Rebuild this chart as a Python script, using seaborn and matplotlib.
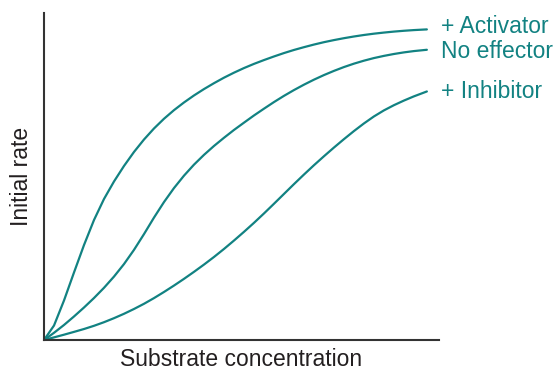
import pandas as pd
import matplotlib
matplotlib.use("Agg")
import matplotlib.pyplot as plt
import seaborn as sns

# substrate concentration (arbitrary units) where the curves were read
conc = [0, 0.253, 0.506, 0.759, 1.013, 1.266, 1.519, 1.772, 2.025, 2.278,
        2.532, 2.785, 3.038, 3.291, 3.544, 3.797, 4.051, 4.304, 4.557, 4.810,
        5.063, 5.316, 5.570, 5.823, 6.076, 6.329, 6.582, 6.835, 7.089, 7.342,
        7.595, 7.848, 8.101, 8.354, 8.608, 8.861, 9.114, 9.367, 9.696]

# initial rate (arbitrary units, 0-100)
activator = [0, 4.43, 12.08, 20.64, 29.05, 36.70, 43.12, 48.47, 53.21, 57.49,
             61.31, 64.68, 67.65, 70.28, 72.63, 74.77, 76.73, 78.53, 80.21, 81.74,
             83.15, 84.43, 85.60, 86.70, 87.74, 88.69, 89.54, 90.34, 91.07, 91.71,
             92.29, 92.81, 93.27, 93.67, 94.01, 94.31, 94.56, 94.77, 94.98]
no_effector = [0, 2.20, 4.59, 7.19, 9.94, 12.84, 15.96, 19.39, 23.21, 27.55,
               32.38, 37.43, 42.17, 46.45, 50.24, 53.61, 56.61, 59.33, 61.83, 64.22,
               66.45, 68.65, 70.73, 72.75, 74.65, 76.42, 78.07, 79.60, 81.01, 82.29,
               83.46, 84.50, 85.41, 86.21, 86.88, 87.46, 87.95, 88.35, 88.75]
inhibitor = [0, 0.80, 1.62, 2.48, 3.36, 4.34, 5.44, 6.67, 8.01, 9.48,
             11.07, 12.81, 14.68, 16.64, 18.69, 20.83, 23.06, 25.38, 27.83, 30.40,
             33.06, 35.81, 38.69, 41.65, 44.65, 47.65, 50.58, 53.43, 56.18, 58.84,
             61.41, 63.88, 66.21, 68.35, 70.21, 71.80, 73.21, 74.50, 76.00]

labels = ["+ Activator", "No effector", "+ Inhibitor"]
label_y = [95.8, 88.2, 75.9]

teal = "#128282"

sns.set_style("white")
plt.rcParams["font.family"] = ["Liberation Sans", "DejaVu Sans"]

df = pd.concat([
    pd.DataFrame({"x": conc, "y": activator, "curve": labels[0]}),
    pd.DataFrame({"x": conc, "y": no_effector, "curve": labels[1]}),
    pd.DataFrame({"x": conc, "y": inhibitor, "curve": labels[2]}),
])

fig = plt.figure(figsize=(5.53, 3.70), dpi=100)
ax = fig.add_axes([0.0796, 0.0811, 0.714, 0.8838])

sns.lineplot(data=df, x="x", y="y", hue="curve", palette=[teal] * 3,
             sort=False, estimator=None, legend=False, linewidth=1.6, ax=ax)

for lab, ly in zip(labels, label_y):
    ax.text(10.05, ly, lab, color=teal, fontsize=16.5, va="center", ha="left", clip_on=False)

ax.set_xlim(0, 10)
ax.set_ylim(0, 100)
ax.set_xticks([])
ax.set_yticks([])
sns.despine(ax=ax)
for s in ["left", "bottom"]:
    ax.spines[s].set_color("#333333")
    ax.spines[s].set_linewidth(1.5)

ax.set_xlabel("Substrate concentration", fontsize=16.5, color="#231f20", labelpad=6)
ax.set_ylabel("Initial rate", fontsize=16.5, color="#231f20", labelpad=8)

fig.savefig("out.png", dpi=100)
